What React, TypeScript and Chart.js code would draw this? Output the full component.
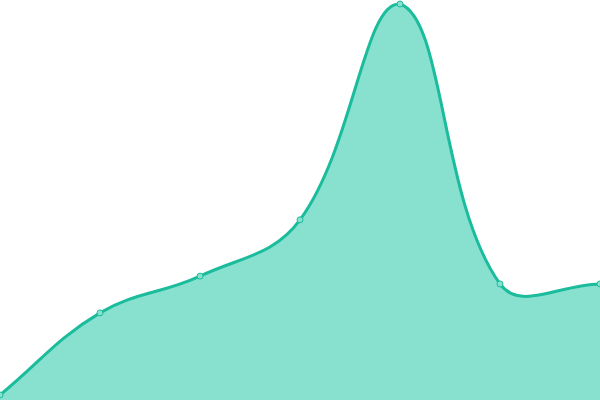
import { useEffect, useRef } from 'react'
import { Chart, registerables, type ChartOptions } from 'chart.js'

Chart.register(...registerables)

const labels = ['1', '2', '3', '4', '5', '6', '7']
const values = [0, 21, 30.4, 44.8, 100, 28.4, 28.4]

const LINE_COLOR = '#1abc9c'
const FILL_COLOR = '#88e0cf'

const CHART_OPTIONS: ChartOptions<'line'> = {
  responsive: true,
  maintainAspectRatio: false,
  animation: false,
  layout: {
    autoPadding: false,
    padding: 0,
  },
  plugins: {
    legend: { display: false },
    tooltip: { enabled: false },
  },
  scales: {
    x: { display: false },
    y: { display: false, min: -1.28, max: 101.02 },
  },
}

export default function App() {
  const canvasRef = useRef<HTMLCanvasElement>(null)

  useEffect(() => {
    document.body.style.margin = '0'
    const canvas = canvasRef.current
    if (!canvas) return

    const chart = new Chart(canvas, {
      type: 'line',
      data: {
        labels,
        datasets: [
          {
            data: values,
            borderColor: LINE_COLOR,
            backgroundColor: FILL_COLOR,
            borderWidth: 3,
            pointRadius: 3,
            pointBorderWidth: 1,
            pointBackgroundColor: FILL_COLOR,
            pointBorderColor: LINE_COLOR,
            tension: 0.4,
            fill: 'start',
          },
        ],
      },
      options: CHART_OPTIONS,
    })

    return () => {
      chart.destroy()
    }
  }, [])

  return (
    <div style={{ position: 'relative', width: 600, height: 400 }}>
      <canvas ref={canvasRef} />
    </div>
  )
}
